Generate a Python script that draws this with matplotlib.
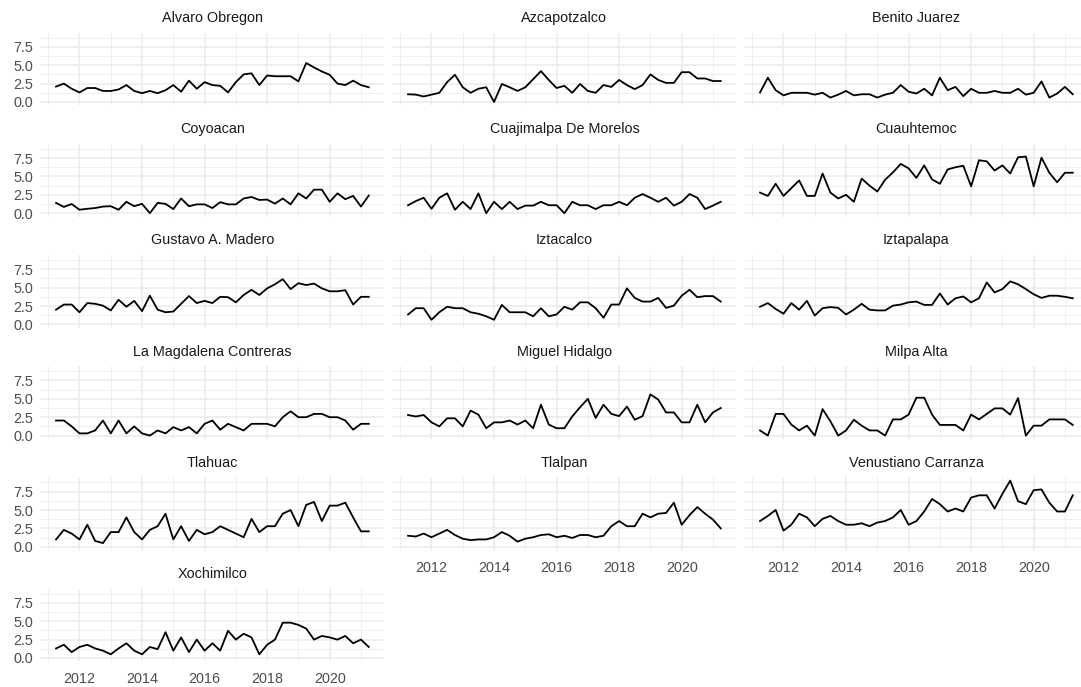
import numpy as np
import matplotlib
matplotlib.use("Agg")
import matplotlib.pyplot as plt
from matplotlib.ticker import FixedLocator

plt.rcParams['font.family'] = ['Liberation Sans', 'DejaVu Sans']

# ---------------- data ----------------
years = list(range(2011, 2022))
quarters = [(y, q) for y in years for q in (1, 2, 3, 4)][:41]   # 2011Q1 .. 2021Q1
time = [y + q / 4 for (y, q) in quarters]

alcaldias = [
    "Alvaro Obregon", "Azcapotzalco", "Benito Juarez",
    "Coyoacan", "Cuajimalpa De Morelos", "Cuauhtemoc",
    "Gustavo A. Madero", "Iztacalco", "Iztapalapa",
    "La Magdalena Contreras", "Miguel Hidalgo", "Milpa Alta",
    "Tlahuac", "Tlalpan", "Venustiano Carranza",
    "Xochimilco",
]

alvaro_obregon = [2.1, 2.5, 1.8, 1.3, 1.9, 1.9, 1.5, 1.5, 1.7, 2.3, 1.5, 1.2, 1.5, 1.2, 1.6, 2.3,
                  1.4, 2.9, 1.8, 2.7, 2.3, 2.2, 1.3, 2.7, 3.75, 3.9, 2.3, 3.6, 3.5, 3.5, 3.5, 2.8,
                  5.3, 4.7, 4.15, 3.7, 2.5, 2.3, 2.9, 2.3, 2.0]
azcapotzalco = [1.05, 1.0, 0.75, 1.0, 1.25, 2.7, 3.7, 2.0, 1.25, 1.8, 2.0, 0.0, 2.45, 2.0, 1.5, 2.0,
                3.1, 4.2, 3.0, 1.9, 2.2, 1.25, 2.45, 1.5, 1.25, 2.3, 2.05, 3.0, 2.3, 1.75, 2.3, 3.75,
                3.0, 2.6, 2.6, 4.05, 4.05, 3.2, 3.2, 2.85, 2.85]
benito_juarez = [1.3, 3.3, 1.6, 0.9, 1.25, 1.25, 1.25, 1.0, 1.25, 0.6, 1.0, 1.5, 0.9, 1.05, 1.05, 0.6,
                 1.0, 1.25, 2.3, 1.4, 1.15, 1.8, 0.9, 3.3, 1.6, 2.05, 0.8, 1.8, 1.25, 1.25, 1.5, 1.25,
                 1.25, 1.8, 1.0, 1.25, 2.8, 0.6, 1.15, 2.05, 1.05]
coyoacan = [1.4, 0.85, 1.25, 0.47, 0.6, 0.7, 0.9, 0.95, 0.47, 1.55, 0.95, 1.27, 0.0, 1.4, 1.27, 0.56,
            2.0, 0.95, 1.2, 1.2, 0.7, 1.5, 1.2, 1.2, 2.0, 2.2, 1.8, 1.85, 1.3, 2.0, 1.2, 2.7,
            2.0, 3.2, 3.2, 1.55, 2.7, 1.9, 2.35, 0.9, 2.4]
cuajimalpa = [1.08, 1.65, 2.1, 0.6, 2.1, 2.7, 0.47, 1.55, 0.56, 2.7, 0.0, 1.55, 0.56, 1.55, 0.56, 1.03,
              1.03, 1.55, 1.08, 1.08, 0.0, 1.55, 1.08, 1.08, 0.56, 1.08, 1.08, 1.55, 1.08, 2.1, 2.6, 2.1,
              1.55, 2.1, 1.03, 1.55, 2.6, 2.1, 0.56, 1.03, 1.55]
cuauhtemoc = [2.8, 2.35, 4.0, 2.35, 3.4, 4.45, 2.35, 2.35, 5.4, 2.8, 2.0, 2.5, 1.55, 4.7, 3.75, 2.95,
              4.55, 5.55, 6.7, 6.1, 4.8, 6.5, 4.6, 4.0, 5.95, 6.25, 6.45, 3.65, 7.2, 7.05, 5.8, 6.5,
              5.4, 7.6, 7.7, 3.65, 7.55, 5.5, 4.2, 5.5, 5.5]
gustavo_madero = [2.0, 2.7, 2.7, 1.65, 2.9, 2.8, 2.55, 1.9, 3.35, 2.4, 3.2, 1.8, 3.9, 2.0, 1.65, 1.75,
                  2.8, 3.85, 2.9, 3.2, 2.9, 3.75, 3.7, 3.0, 4.0, 4.7, 4.0, 4.9, 5.45, 6.15, 4.8, 5.6,
                  5.35, 5.55, 4.9, 4.5, 4.5, 4.65, 2.7, 3.75, 3.75]
iztacalco = [1.35, 2.2, 2.2, 0.63, 1.65, 2.4, 2.2, 2.2, 1.65, 1.45, 1.1, 0.63, 2.65, 1.65, 1.65, 1.65,
             1.1, 2.2, 1.1, 1.35, 2.4, 2.0, 3.0, 3.0, 2.2, 0.9, 2.7, 2.7, 4.9, 3.6, 3.1, 3.1,
             3.6, 2.25, 2.55, 3.9, 4.7, 3.7, 3.85, 3.85, 3.1]
iztapalapa = [2.4, 2.9, 2.1, 1.45, 2.9, 2.0, 3.2, 1.2, 2.2, 2.35, 2.25, 1.35, 2.0, 2.8, 2.0, 1.9,
              1.9, 2.55, 2.7, 3.0, 3.1, 2.65, 2.65, 4.2, 2.7, 3.55, 3.8, 3.0, 3.55, 5.7, 4.35, 4.8,
              5.85, 5.45, 4.8, 4.1, 3.6, 3.9, 3.9, 3.75, 3.55]
magdalena = [2.05, 2.05, 1.25, 0.3, 0.3, 0.7, 2.05, 0.3, 2.05, 0.3, 1.25, 0.3, 0.0, 0.7, 0.3, 1.15,
             0.7, 1.15, 0.3, 1.6, 2.05, 0.8, 1.6, 1.15, 0.7, 1.6, 1.6, 1.6, 1.25, 2.5, 3.3, 2.5,
             2.5, 2.95, 2.95, 2.5, 2.5, 2.05, 0.8, 1.6, 1.6]
miguel_hidalgo = [2.8, 2.6, 2.8, 1.8, 1.25, 2.35, 2.35, 1.25, 3.4, 2.85, 1.0, 1.8, 1.8, 2.05, 1.5, 2.05,
                  1.0, 4.2, 1.5, 1.0, 1.0, 2.6, 3.85, 5.0, 2.4, 4.2, 2.95, 2.65, 3.95, 2.15, 2.65, 5.6,
                  4.9, 3.15, 3.15, 1.8, 1.8, 4.2, 1.8, 3.15, 3.75]
milpa_alta = [0.7, 0.0, 2.95, 2.95, 1.5, 0.7, 1.35, 0.0, 3.6, 1.95, 0.0, 0.7, 2.15, 1.35, 0.7, 0.7,
              0.0, 2.2, 2.2, 2.85, 5.15, 5.15, 2.85, 1.45, 1.45, 1.45, 0.7, 2.85, 2.2, 2.95, 3.7, 3.7,
              2.85, 5.1, 0.0, 1.35, 1.35, 2.2, 2.2, 2.2, 1.45]
tlahuac = [1.0, 2.3, 1.8, 1.0, 3.0, 0.8, 0.5, 2.0, 2.0, 4.0, 2.0, 1.0, 2.3, 2.8, 4.5, 1.0,
           2.8, 0.8, 2.3, 1.7, 2.0, 2.8, 2.3, 1.8, 1.3, 3.8, 2.0, 2.8, 2.8, 4.5, 5.0, 2.8,
           5.7, 6.1, 3.5, 5.6, 5.6, 6.0, 4.0, 2.1, 2.1]
tlalpan = [1.5, 1.4, 1.8, 1.3, 1.8, 2.3, 1.6, 1.1, 0.9, 1.0, 1.0, 1.3, 2.0, 1.5, 0.7, 1.1,
           1.3, 1.6, 1.7, 1.3, 1.5, 1.2, 1.6, 1.6, 1.3, 1.5, 2.8, 3.5, 2.8, 2.8, 4.5, 4.0,
           4.5, 4.6, 6.0, 3.0, 4.3, 5.4, 4.5, 3.7, 2.5]
venustiano = [3.5, 4.2, 5.0, 2.2, 3.0, 4.5, 4.0, 2.8, 3.8, 4.2, 3.5, 3.0, 3.0, 3.2, 2.8, 3.3,
              3.5, 4.0, 5.0, 3.0, 3.5, 4.8, 6.5, 5.8, 4.8, 5.2, 4.8, 6.7, 7.0, 7.0, 5.2, 7.2,
              9.0, 6.2, 5.8, 7.7, 7.8, 6.0, 4.8, 4.8, 7.0]
xochimilco = [1.3, 1.8, 0.8, 1.5, 1.8, 1.3, 1.0, 0.5, 1.3, 2.0, 1.0, 0.5, 1.5, 1.2, 3.5, 1.0,
              2.8, 0.8, 2.5, 1.0, 2.0, 1.0, 3.7, 2.5, 3.3, 2.8, 0.5, 1.8, 2.5, 4.8, 4.8, 4.5,
              4.0, 2.5, 3.0, 2.8, 2.5, 3.0, 2.0, 2.5, 1.5]

series = [alvaro_obregon, azcapotzalco, benito_juarez, coyoacan, cuajimalpa, cuauhtemoc,
          gustavo_madero, iztacalco, iztapalapa, magdalena, miguel_hidalgo, milpa_alta,
          tlahuac, tlalpan, venustiano, xochimilco]

y_ticks = [0.0, 2.5, 5.0, 7.5]
y_labels = ["0.0", "2.5", "5.0", "7.5"]
y_minor = [1.25, 3.75, 6.25, 8.75]
x_ticks = [2012, 2014, 2016, 2018, 2020]
x_minor = [2011, 2013, 2015, 2017, 2019, 2021]

# ---------------- layout ----------------
W, H = 1081, 687
fig = plt.figure(figsize=(W / 100, H / 100), dpi=100)
fig.patch.set_facecolor("white")

left0 = 40.4
pw = 344.0
col_pitch = 352.0
row_pitch = 111.2
top0 = 32.5
ph = 72.8

allvals = [v for s in series for v in s]
ymin, ymax = min(allvals), max(allvals)
yr = ymax - ymin
xmin, xmax = min(time), max(time)
xr = xmax - xmin

grid_col = "#EBEBEB"
text_col = "#4D4D4D"
fs = 10.4

n = len(alcaldias)
ncol = 3
for i, (name, vals) in enumerate(zip(alcaldias, series)):
    r, c = divmod(i, ncol)
    x0 = left0 + c * col_pitch
    y0 = top0 + r * row_pitch
    ax = fig.add_axes([x0 / W, 1 - (y0 + ph) / H, pw / W, ph / H])
    ax.set_facecolor("white")
    for s in ax.spines.values():
        s.set_visible(False)
    ax.set_xlim(xmin - 0.05 * xr, xmax + 0.05 * xr)
    ax.set_ylim(ymin - 0.05 * yr, ymax + 0.05 * yr)
    ax.xaxis.set_major_locator(FixedLocator(x_ticks))
    ax.xaxis.set_minor_locator(FixedLocator(x_minor))
    ax.yaxis.set_major_locator(FixedLocator(y_ticks))
    ax.yaxis.set_minor_locator(FixedLocator(y_minor))
    ax.grid(which="major", color=grid_col, linewidth=1.1)
    ax.grid(which="minor", color=grid_col, linewidth=0.55)
    ax.set_axisbelow(True)
    ax.tick_params(which="both", length=0)
    ax.tick_params(axis="y", pad=5.5, labelsize=fs, labelcolor=text_col)
    ax.tick_params(axis="x", pad=7.5, labelsize=fs, labelcolor=text_col)
    if c == 0:
        ax.set_yticklabels(y_labels)
    else:
        ax.set_yticklabels([])
    if i + ncol >= n:
        ax.set_xticklabels([str(t) for t in x_ticks])
    else:
        ax.set_xticklabels([])
    ax.plot(time, vals, color="black", linewidth=1.3)
    ax.annotate(name, xy=(0.5, 1.0), xycoords="axes fraction",
                xytext=(0, 10.5), textcoords="offset points",
                ha="center", va="center", fontsize=fs, color="#1A1A1A")

fig.savefig("out.png", dpi=100, facecolor="white")
